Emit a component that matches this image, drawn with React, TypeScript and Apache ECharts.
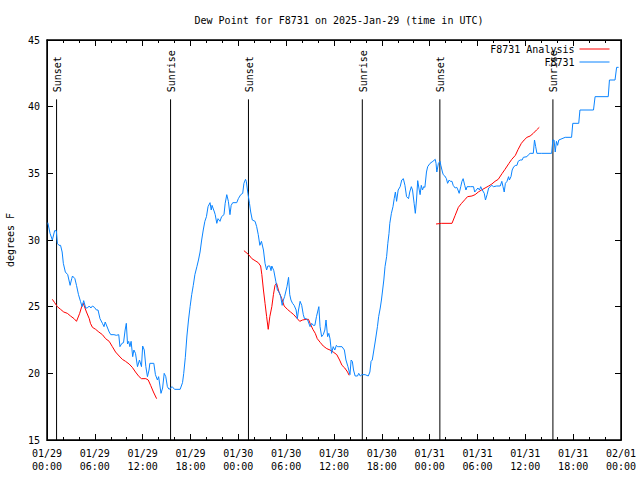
import React, { useEffect, useRef } from 'react';
import * as echarts from 'echarts';

const TITLE = 'Dew Point for F8731 on 2025-Jan-29 (time in UTC)';
const Y_NAME = 'degrees F';
const FONT = '"DejaVu Sans Mono", "Liberation Mono", monospace';

const xTickLabels = [
  '01/29\n00:00', '01/29\n06:00', '01/29\n12:00', '01/29\n18:00',
  '01/30\n00:00', '01/30\n06:00', '01/30\n12:00', '01/30\n18:00',
  '01/31\n00:00', '01/31\n06:00', '01/31\n12:00', '01/31\n18:00',
  '02/01\n00:00',
];
const X_MIN = 0;
const X_MAX = 72;
const X_STEP = 6;
const Y_MIN = 15;
const Y_MAX = 45;
const Y_STEP = 5;

const sunLabels = ['Sunset', 'Sunrise', 'Sunset', 'Sunrise', 'Sunset', 'Sunrise'];
const sunHours = [1.2, 15.5, 25.27, 39.55, 49.28, 63.46];

// hours since 01/29 00:00 UTC
const obsHours = [
  0.1, 0.38, 0.67, 0.96, 1.17, 1.3, 1.5, 1.7, 1.9, 2.05, 2.3, 2.6, 2.9, 3.1, 3.2, 3.5, 3.7, 3.95, 4.2, 4.4,
  4.6, 4.85, 5.05, 5.3, 5.5, 5.7, 5.95, 6.2, 6.4, 6.65, 6.95, 7.15, 7.3, 7.5, 7.8, 8.0, 8.4, 8.7, 9.0, 9.15,
  9.4, 9.6, 9.8, 9.95, 10.1, 10.25, 10.4, 10.55, 10.75, 10.9, 11.1, 11.35, 11.6, 11.85, 12.0, 12.2, 12.4, 12.6, 12.8, 12.9,
  13.4, 13.6, 13.85, 14.0, 14.3, 14.5, 14.7, 14.9, 15.1, 15.3, 15.7, 16.0, 16.7, 17.0, 17.15, 17.35, 17.55, 17.75, 17.95, 18.15,
  18.35, 18.55, 18.8, 19.0, 19.2, 19.4, 19.6, 19.8, 20.0, 20.2, 20.45, 20.6, 20.7, 21.0, 21.1, 21.3, 21.45, 21.7, 21.9, 22.2,
  22.35, 22.55, 22.75, 22.95, 23.1, 23.3, 23.8, 24.0, 24.3, 24.55, 24.7, 24.9, 25.0, 25.2, 25.4, 25.55, 25.75, 26.1, 26.3, 26.5,
  26.7, 26.9, 27.15, 27.35, 27.55, 27.7, 27.95, 28.1, 28.2, 28.45, 28.7, 28.9, 29.1, 29.3, 29.5, 29.65, 29.8, 30.1, 30.3, 30.45,
  30.6, 30.8, 31.0, 31.25, 31.4, 31.55, 31.75, 31.95, 32.15, 32.3, 32.5, 32.7, 33.0, 33.2, 33.4, 33.6, 33.8, 34.1, 34.25, 34.45,
  34.65, 34.85, 35.0, 35.2, 35.35, 35.5, 35.7, 35.9, 36.1, 36.3, 36.45, 36.6, 37.0, 37.3, 37.5, 37.75, 38.0, 38.15, 38.3, 38.45,
  38.65, 38.95, 39.1, 39.3, 39.5, 39.9, 40.3, 40.5, 40.65, 40.8, 41.0, 41.2, 41.45, 41.6, 41.8, 41.95, 42.1, 42.25, 42.4, 42.6,
  42.75, 42.9, 43.0, 43.2, 43.4, 43.55, 43.7, 43.85, 44.05, 44.3, 44.5, 44.7, 44.9, 45.1, 45.35, 45.5, 45.7, 45.85, 46.05, 46.2,
  46.35, 46.5, 46.65, 46.8, 46.95, 47.1, 47.25, 47.4, 47.6, 47.75, 48.05, 48.4, 48.7, 48.8, 48.9, 49.1, 49.3, 49.4, 49.6, 49.7,
  49.9, 50.1, 50.25, 50.45, 50.6, 50.8, 50.95, 51.2, 51.4, 51.55, 51.7, 51.9, 52.05, 52.2, 52.4, 52.55, 52.7, 53.15, 53.5, 53.65,
  53.85, 54.05, 54.25, 54.4, 54.6, 54.85, 55.0, 55.2, 55.4, 55.6, 55.8, 56.0, 56.4, 56.85, 57.05, 57.2, 57.35, 57.5, 57.7, 57.9,
  58.0, 58.2, 58.35, 58.55, 58.8, 58.95, 59.1, 59.35, 59.6, 59.75, 60.2, 60.4, 60.6, 61.0, 61.15, 61.3, 61.45, 62.0, 63.3, 63.45,
  63.6, 63.75, 63.9, 64.05, 64.2, 65.0, 65.8, 65.95, 66.7, 66.85, 68.55, 68.75, 70.4, 70.55, 71.25, 71.45, 71.7,
];
const obsDew = [
  31.3, 30.5, 30.0, 30.7, 30.7, 29.75, 29.6, 29.6, 29.1, 28.25, 27.6, 27.4, 26.6, 27.1, 27.3, 27.1, 26.6, 25.9, 25.4, 25.0,
  25.45, 24.9, 24.9, 25.05, 24.9, 25.05, 24.95, 24.75, 24.75, 24.1, 23.75, 23.5, 23.85, 23.55, 23.1, 22.9, 22.9, 22.85, 22.9, 22.0,
  22.25, 22.3, 23.25, 23.75, 22.2, 22.4, 22.0, 22.4, 21.25, 21.75, 21.5, 20.5, 21.0, 20.5, 22.05, 21.75, 20.5, 19.75, 20.25, 20.75,
  20.75, 19.9, 19.5, 19.75, 18.5, 18.9, 20.0, 19.75, 19.0, 18.8, 19.0, 18.8, 18.8, 19.3, 20.0, 21.2, 22.8, 24.0, 25.0, 25.9,
  26.6, 27.4, 28.0, 28.5, 29.1, 30.0, 30.75, 31.4, 31.75, 32.5, 32.8, 32.25, 32.6, 32.1, 31.9, 31.25, 31.6, 31.4, 31.75, 31.9,
  32.75, 33.4, 32.9, 31.9, 32.6, 32.8, 32.8, 33.1, 33.4, 33.5, 34.25, 34.55, 34.4, 33.5, 32.75, 32.1, 31.5, 31.4, 31.0, 30.4,
  29.6, 29.9, 29.25, 28.25, 27.75, 28.05, 28.05, 27.7, 28.05, 27.7, 26.9, 26.25, 26.1, 25.8, 25.1, 25.5, 25.75, 26.5, 27.2, 25.9,
  25.5, 25.25, 25.1, 24.75, 24.1, 24.75, 25.4, 25.1, 24.4, 24.1, 24.1, 24.0, 23.5, 23.75, 23.6, 23.6, 24.25, 25.0, 23.5, 22.75,
  22.9, 23.25, 24.0, 22.75, 23.0, 22.6, 21.5, 22.0, 21.75, 22.1, 22.0, 22.0, 22.0, 21.75, 21.0, 20.5, 19.9, 21.0, 20.9, 20.25,
  19.8, 19.8, 20.0, 19.8, 19.9, 19.9, 19.8, 20.1, 20.9, 21.0, 21.75, 22.5, 23.5, 24.25, 24.9, 25.5, 26.25, 27.0, 28.0, 28.75,
  29.75, 30.5, 31.25, 32.0, 32.5, 33.1, 33.6, 32.9, 33.75, 34.0, 34.5, 34.6, 34.1, 33.25, 33.1, 33.6, 34.0, 33.75, 32.75, 32.0,
  33.0, 34.45, 33.9, 33.4, 34.1, 33.75, 34.0, 33.95, 35.1, 35.5, 35.75, 35.9, 36.05, 35.75, 35.1, 35.75, 35.9, 35.6, 35.1, 34.9,
  34.8, 34.6, 34.25, 34.5, 34.4, 34.4, 34.1, 33.9, 33.95, 33.75, 33.5, 34.0, 34.4, 34.6, 34.1, 33.75, 34.0, 34.0, 34.0, 33.6,
  33.75, 33.9, 33.75, 34.0, 33.75, 33.5, 33.0, 33.4, 33.9, 34.0, 34.1, 34.0, 34.05, 34.05, 34.4, 34.0, 33.6, 34.25, 34.4, 34.75,
  34.5, 34.75, 35.25, 35.5, 35.6, 35.6, 35.9, 36.0, 36.0, 36.2, 36.25, 36.4, 36.5, 36.5, 37.5, 37.0, 36.5, 36.5, 36.5, 37.5,
  37.5, 36.6, 37.4, 37.1, 37.5, 37.7, 37.7, 38.75, 38.75, 39.75, 39.75, 40.75, 40.75, 42.0, 42.0, 42.95, 42.95,
];

const ana1Hours = [0.67, 0.96, 1.3, 1.7, 2.1, 2.55, 2.95, 3.4, 3.7, 4.1, 4.35, 4.55, 4.95, 5.3, 5.45, 5.7, 6.1, 6.5, 6.95, 7.35, 7.8, 8.2, 8.6, 9.05, 9.45, 9.85, 10.3, 10.7, 11.1, 11.55, 11.85, 12.4, 12.7, 13.0, 13.35, 13.75];
const ana1Dew = [25.55, 25.3, 25.0, 24.8, 24.6, 24.5, 24.3, 24.1, 23.9, 24.5, 25.0, 25.25, 24.6, 24.1, 23.75, 23.45, 23.3, 23.1, 22.9, 22.6, 22.4, 22.0, 21.6, 21.3, 21.05, 20.9, 20.7, 20.45, 20.1, 19.75, 19.6, 19.6, 19.5, 19.1, 18.6, 18.1];

const ana2Hours = [24.7, 25.3, 25.7, 26.1, 26.5, 26.8, 26.95, 27.15, 27.35, 27.55, 27.75, 27.95, 28.2, 28.4, 28.6, 28.8, 29.1, 29.45, 29.75, 30.15, 30.55, 30.95, 31.4, 31.7, 32.05, 32.5, 32.8, 33.0, 33.35, 33.65, 33.9, 34.3, 34.65, 35.1, 35.5, 35.9, 36.35, 36.7, 37.0, 37.35, 37.7, 37.9];
const ana2Dew = [29.2, 28.9, 28.6, 28.45, 28.3, 28.05, 27.4, 26.25, 25.25, 24.25, 23.3, 24.25, 25.0, 25.9, 26.6, 26.75, 26.1, 25.6, 25.05, 24.8, 24.6, 24.4, 24.1, 23.9, 24.0, 24.05, 24.05, 23.75, 23.3, 23.0, 22.6, 22.3, 22.05, 21.85, 21.75, 21.6, 21.4, 21.0, 20.6, 20.4, 20.1, 19.85];

const ana3Hours = [48.8, 49.5, 50.8, 51.2, 51.6, 52.0, 52.45, 52.75, 53.3, 53.7, 54.1, 54.5, 54.95, 55.4, 55.8, 56.2, 56.6, 57.1, 57.45, 57.95, 58.3, 58.75, 59.1, 59.5, 59.85, 60.2, 60.6, 61.0, 61.4, 61.75];
const ana3Dew = [31.2, 31.25, 31.25, 31.85, 32.45, 32.75, 33.05, 33.25, 33.3, 33.4, 33.6, 33.75, 33.9, 34.05, 34.2, 34.4, 34.55, 35.0, 35.3, 35.75, 36.05, 36.35, 36.8, 37.25, 37.5, 37.7, 37.8, 38.0, 38.25, 38.45];

const SUN_LINE_TOP = 40.55;
const RED = '#ff0000';
const BLUE = '#0a84ff';

const zip = (xs: number[], ys: number[]) => xs.map((x, i) => [x, ys[i]]);

export default function App() {
  const ref = useRef<HTMLDivElement>(null);
  useEffect(() => {
    if (!ref.current) return;
    const chart = echarts.init(ref.current, null, { renderer: 'svg' });
    const lineSeries = (name: string, data: number[][], color: string) => ({
      type: 'line',
      name,
      data,
      xAxisIndex: 0,
      yAxisIndex: 0,
      showSymbol: false,
      symbol: 'none',
      lineStyle: { color, width: 1 },
      itemStyle: { color },
      silent: true,
    });
    const xLabelFmt = (v: number) => xTickLabels[Math.round(v / X_STEP)] ?? '';
    chart.setOption({
      animation: false,
      backgroundColor: '#fff',
      title: {
        text: TITLE,
        left: 334,
        top: 10,
        textAlign: 'center',
        textStyle: { fontFamily: FONT, fontSize: 10, fontWeight: 'normal', color: '#000' },
      },
      legend: {
        data: ['F8731 Analysis', 'F8731'],
        orient: 'vertical',
        right: 30,
        top: 43,
        align: 'right',
        padding: 0,
        itemGap: 1,
        itemWidth: 30,
        itemHeight: 12,
        itemStyle: { opacity: 0, borderWidth: 0 },
        lineStyle: { width: 1 },
        textStyle: { fontFamily: FONT, fontSize: 10, color: '#000', lineHeight: 12 },
        selectedMode: false,
      },
      grid: {
        left: 47,
        right: 19,
        top: 40,
        bottom: 40,
        show: true,
        borderColor: '#000',
        borderWidth: 1.5,
      },
      xAxis: [
        {
          type: 'value',
          min: X_MIN,
          max: X_MAX,
          interval: X_STEP,
          position: 'bottom',
          axisLine: { show: true, onZero: false, lineStyle: { color: '#000', width: 1 } },
          splitLine: { show: false },
          axisTick: { show: true, inside: true, length: 6, lineStyle: { color: '#000' } },
          minorTick: { show: true, splitNumber: 3, length: 3, lineStyle: { color: '#000' } },
          minorSplitLine: { show: false },
          axisLabel: {
            show: true,
            margin: 7,
            color: '#000',
            fontFamily: FONT,
            fontSize: 10,
            lineHeight: 13,
            formatter: xLabelFmt,
          },
        },
        {
          type: 'value',
          min: X_MIN,
          max: X_MAX,
          interval: X_STEP,
          position: 'top',
          axisLine: { show: true, onZero: false, lineStyle: { color: '#000', width: 1 } },
          splitLine: { show: false },
          axisTick: { show: true, inside: true, length: 6, lineStyle: { color: '#000' } },
          minorTick: { show: true, splitNumber: 3, length: 3, lineStyle: { color: '#000' } },
          minorSplitLine: { show: false },
          axisLabel: { show: false },
        },
      ],
      yAxis: [
        {
          type: 'value',
          min: Y_MIN,
          max: Y_MAX,
          interval: Y_STEP,
          position: 'left',
          axisLine: { show: true, onZero: false, lineStyle: { color: '#000', width: 1 } },
          splitLine: { show: false },
          axisTick: { show: true, inside: true, length: 6, lineStyle: { color: '#000' } },
          axisLabel: { show: true, margin: 7, color: '#000', fontFamily: FONT, fontSize: 10 },
        },
        {
          type: 'value',
          min: Y_MIN,
          max: Y_MAX,
          interval: Y_STEP,
          position: 'right',
          axisLine: { show: true, onZero: false, lineStyle: { color: '#000', width: 1 } },
          splitLine: { show: false },
          axisTick: { show: true, inside: true, length: 6, lineStyle: { color: '#000' } },
          axisLabel: { show: false },
        },
      ],
      graphic: [
        {
          type: 'text',
          x: 10,
          y: 240,
          rotation: Math.PI / 2,
          style: {
            text: Y_NAME,
            font: `10px ${FONT}`,
            fill: '#000',
            align: 'center',
            verticalAlign: 'middle',
          },
        },
      ],
      series: [
        {
          type: 'custom',
          name: 'sun',
          xAxisIndex: 0,
          yAxisIndex: 0,
          silent: true,
          clip: false,
          data: sunHours.map((h, i) => [h, i]),
          renderItem: (params: any, api: any) => {
            const h = api.value(0);
            const top = api.coord([h, SUN_LINE_TOP]);
            const bottom = api.coord([h, Y_MIN]);
            return {
              type: 'group',
              children: [
                {
                  type: 'line',
                  shape: { x1: top[0], y1: top[1], x2: bottom[0], y2: bottom[1] },
                  style: { stroke: '#000', lineWidth: 1 },
                },
                {
                  type: 'text',
                  x: top[0] + 1,
                  y: top[1] - 7,
                  rotation: Math.PI / 2,
                  style: {
                    text: sunLabels[params.dataIndex],
                    font: `10px ${FONT}`,
                    fill: '#000',
                    align: 'left',
                    verticalAlign: 'middle',
                  },
                },
              ],
            };
          },
        },
        lineSeries('F8731 Analysis', zip(ana1Hours, ana1Dew), RED),
        lineSeries('F8731 Analysis', zip(ana2Hours, ana2Dew), RED),
        lineSeries('F8731 Analysis', zip(ana3Hours, ana3Dew), RED),
        lineSeries('F8731', zip(obsHours, obsDew), BLUE),
        {
          type: 'line',
          name: 'mirror',
          xAxisIndex: 1,
          yAxisIndex: 1,
          data: [[X_MIN, Y_MIN], [X_MAX, Y_MAX]],
          showSymbol: false,
          symbol: 'none',
          lineStyle: { opacity: 0 },
          silent: true,
        },
      ],
    });
    return () => chart.dispose();
  }, []);
  return (
    <div
      ref={ref}
      style={{ position: 'fixed', left: 0, top: 0, width: 640, height: 480, background: '#fff' }}
    />
  );
}
